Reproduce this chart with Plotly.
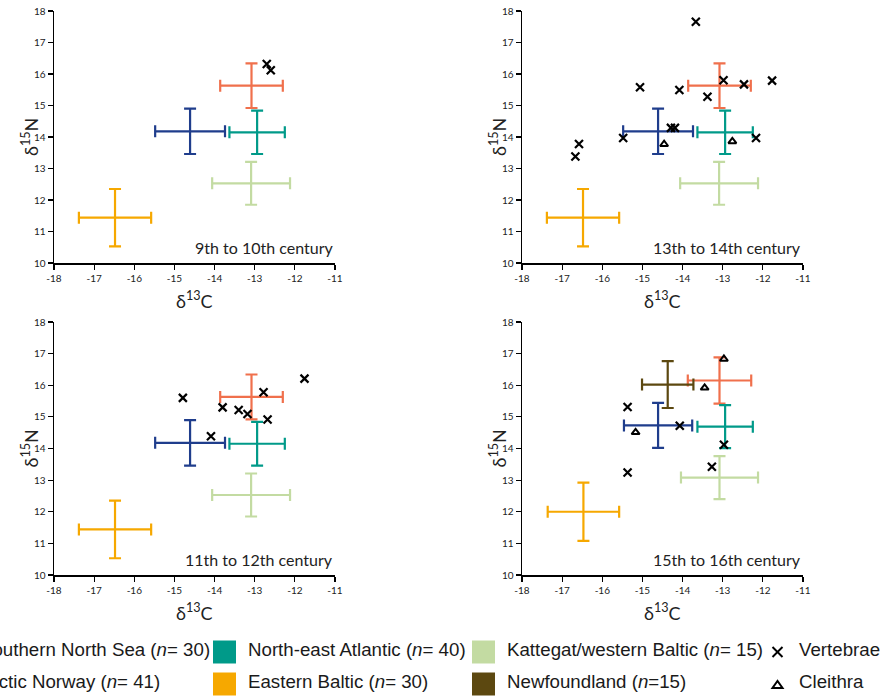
import plotly.graph_objects as go
from plotly.subplots import make_subplots

W, H = 894, 697

# ---------------------------- data ----------------------------
regions = ["Southern North Sea", "Arctic Norway", "North-east Atlantic",
           "Kattegat/western Baltic", "Eastern Baltic", "Newfoundland"]
region_n = ["30", "41", "40", "15", "30", "15"]
region_colors = ["#f0704c", "#1f3d8c", "#009a89", "#c3dba2", "#f6a800", "#5c4810"]

periods = ["9th to 10th century", "13th to 14th century",
           "11th to 12th century", "15th to 16th century"]

# reference crosses (mean ± SD), same in the first three panels
base_c_mean = [-13.08, -14.61, -12.94, -13.09, -16.48]
base_c_sd = [0.78, 0.87, 0.69, 0.97, 0.90]
base_n_mean = [15.63, 14.18, 14.15, 12.53, 11.44]
base_n_sd = [0.71, 0.72, 0.69, 0.68, 0.91]

# reference crosses for the 15th to 16th century panel
late_c_mean = [-13.08, -14.61, -12.94, -13.08, -16.47, -14.37]
late_c_sd = [0.79, 0.85, 0.69, 0.96, 0.89, 0.64]
late_n_mean = [16.15, 14.73, 14.69, 13.08, 12.00, 16.02]
late_n_sd = [0.73, 0.71, 0.68, 0.68, 0.92, 0.74]

# archaeological samples
vert_c = [
    [-12.70, -12.60],
    [-13.67, -15.06, -14.08, -13.38, -12.98, -12.47, -11.77, -15.48, -14.29, -14.19, -12.17, -16.58, -16.67],
    [-14.79, -13.80, -13.40, -13.18, -12.78, -12.68, -11.76, -14.09],
    [-15.37, -15.37, -14.07, -12.97, -13.27],
]
vert_n = [
    [16.32, 16.12],
    [17.66, 15.58, 15.49, 15.28, 15.80, 15.67, 15.79, 13.97, 14.29, 14.29, 13.97, 13.78, 13.38],
    [15.60, 15.30, 15.22, 15.09, 15.78, 14.92, 16.21, 14.39],
    [15.31, 13.24, 14.72, 14.12, 13.42],
]
cleith_c = [[], [-14.46, -12.76], [], [-12.97, -13.45, -15.17]]
cleith_n = [[], [13.77, 13.86], [], [16.83, 15.92, 14.51]]

x_ticks = list(range(-18, -10))
x_ticktext = ["-18", "-17", "-16", "-15", "-14", "-13", "-12", "-11"]
y_ticks = list(range(10, 19))

# drawing order of the crosses (index into regions)
draw_order = [4, 3, 0, 1, 2, 5]

# ---------------------------- figure ----------------------------
fig = make_subplots(rows=2, cols=2)
cells = [(1, 1), (1, 2), (2, 1), (2, 2)]

for p, (r, c) in enumerate(cells):
    if p < 3:
        cm, cs, nm, ns = base_c_mean, base_c_sd, base_n_mean, base_n_sd
    else:
        cm, cs, nm, ns = late_c_mean, late_c_sd, late_n_mean, late_n_sd
    for i in draw_order:
        if i >= len(cm):
            continue
        fig.add_trace(go.Scatter(
            x=[cm[i]], y=[nm[i]], mode="markers",
            marker=dict(size=1, color="rgba(0,0,0,0)"),
            error_x=dict(type="data", array=[cs[i]], color=region_colors[i], thickness=2.2, width=6),
            error_y=dict(type="data", array=[ns[i]], color=region_colors[i], thickness=2.2, width=6),
            showlegend=False, hoverinfo="skip",
        ), row=r, col=c)
    fig.add_trace(go.Scatter(
        x=vert_c[p], y=vert_n[p], mode="markers",
        marker=dict(symbol="x-thin", size=8, line=dict(color="black", width=2.2)),
        showlegend=False,
    ), row=r, col=c)
    if cleith_c[p]:
        fig.add_trace(go.Scatter(
            x=cleith_c[p], y=cleith_n[p], mode="markers",
            marker=dict(symbol="triangle-up-open", size=7, color="black", line=dict(color="black", width=2)),
            showlegend=False,
        ), row=r, col=c)


def fx(px):
    return px / W


def fy(py):
    return 1 - py / H


# panel placement (pixel measurements of the reference)
x_px = [(54, 335), (522, 803)]
y_px = [(11, 263), (322, 575)]

axis_style = dict(
    showline=True, linecolor="black", linewidth=1.5, mirror=False,
    ticks="outside", ticklen=5, tickwidth=1.2, tickcolor="black",
    showgrid=False, zeroline=False, automargin=False,
    tickfont=dict(family="Lato", size=10, color="#222"),
)
title_font = dict(family="Lato", size=18, color="#222")

for p, (r, c) in enumerate(cells):
    k = "" if p == 0 else str(p + 1)
    x0, x1 = x_px[c - 1]
    y0, y1 = y_px[r - 1]
    fig.layout["xaxis" + k].update(
        domain=[fx(x0), fx(x1)], range=[-18, -11], tickvals=x_ticks, ticktext=x_ticktext,
        **axis_style)
    fig.layout["yaxis" + k].update(
        domain=[fy(y1), fy(y0)], range=[10, 18], tickvals=y_ticks,
        **axis_style)
    # axis titles placed as annotations to sit as close as in the original
    fig.add_annotation(text="δ<sup>13</sup>C", xref="paper", yref="paper",
                       x=fx((x0 + x1) / 2), y=fy(y1 + 37), xanchor="center", yanchor="middle",
                       showarrow=False, font=title_font)
    fig.add_annotation(text="δ<sup>15</sup>N", xref="paper", yref="paper", textangle=-90,
                       x=fx(x0 - 24), y=fy((y0 + y1) / 2), xanchor="center", yanchor="middle",
                       showarrow=False, font=title_font)
    fig.add_annotation(
        text=periods[p], xref=f"x{k} domain", yref=f"y{k}",
        x=1, y=10.5, xanchor="right", yanchor="middle", showarrow=False,
        font=dict(family="Lato", size=16, color="#222"))


# ---------------------------- legend ----------------------------
legend_font = dict(family="Liberation Sans, Arial", size=18.7, color="#1a1a1a")
row_y = [652, 684]
col_text_x = [-21, 247, 506]
slot_pos = {0: (0, 0), 1: (1, 0), 2: (0, 1), 4: (1, 1), 3: (0, 2), 5: (1, 2)}

for i, name in enumerate(regions):
    row, col = slot_pos[i]
    tx = col_text_x[col]
    cy = row_y[row]
    fig.add_shape(type="rect", xref="paper", yref="paper",
                  x0=fx(tx - 34), x1=fx(tx - 11), y0=fy(cy + 11.5), y1=fy(cy - 11.5),
                  fillcolor=region_colors[i], line=dict(width=0))
    sep = "=" if name == "Newfoundland" else "= "
    fig.add_annotation(
        text=f"{name} (<i>n</i>{sep}{region_n[i]})", xref="paper", yref="paper",
        x=fx(tx - 1), y=fy(cy - 3), xanchor="left", yanchor="middle", showarrow=False,
        font=legend_font)

# sample-type keys
gx, gy = 777.5, row_y[0]
fig.add_shape(type="line", xref="paper", yref="paper", x0=fx(gx - 5), x1=fx(gx + 5),
              y0=fy(gy - 5), y1=fy(gy + 5), line=dict(color="black", width=2))
fig.add_shape(type="line", xref="paper", yref="paper", x0=fx(gx - 5), x1=fx(gx + 5),
              y0=fy(gy + 5), y1=fy(gy - 5), line=dict(color="black", width=2))
ty = row_y[1]
fig.add_shape(type="path", xref="paper", yref="paper",
              path=f"M {fx(gx - 5)} {fy(ty + 4)} L {fx(gx + 5)} {fy(ty + 4)} L {fx(gx)} {fy(ty - 3)} Z",
              line=dict(color="black", width=2))
fig.add_annotation(text="Vertebrae", xref="paper", yref="paper", x=fx(797), y=fy(row_y[0] - 3),
                   xanchor="left", yanchor="middle", showarrow=False, font=legend_font)
fig.add_annotation(text="Cleithra", xref="paper", yref="paper", x=fx(797), y=fy(row_y[1] - 3),
                   xanchor="left", yanchor="middle", showarrow=False, font=legend_font)

fig.update_layout(
    width=W, height=H,
    margin=dict(l=0, r=0, t=0, b=0),
    paper_bgcolor="white", plot_bgcolor="white",
    showlegend=False,
)

# drop the page's default body margin so the figure fills the window exactly
fig.write_html("out.html", config={"displayModeBar": False, "staticPlot": True},
               post_script="document.body.style.margin='0';document.body.style.overflow='hidden';")
